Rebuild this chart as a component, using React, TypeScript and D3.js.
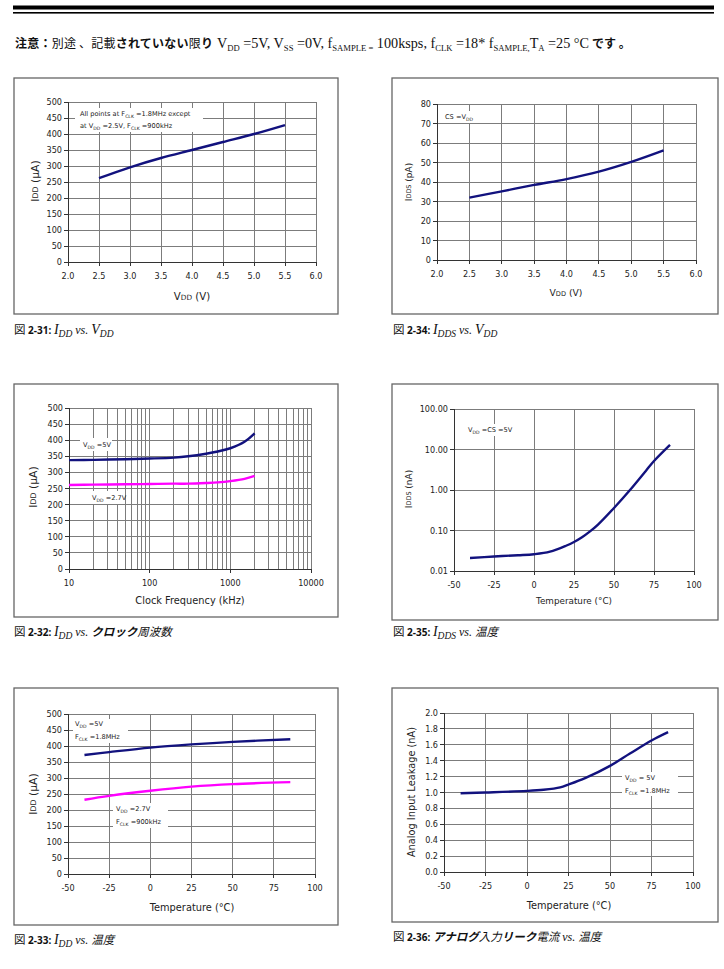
import React from 'react';
import * as d3 from 'd3';

// supply voltage sweep (V)
const VDD_SWEEP = [2.5, 3.0, 3.5, 4.0, 4.5, 5.0, 5.5];
const IDD_VS_VDD = [262, 296, 325, 350, 375, 400, 428];
const IDDS_VS_VDD = [32, 35.2, 38.5, 41.5, 45.3, 50.3, 56.2];

// clock frequency sweep (kHz)
const CLK_KHZ = [10, 20, 50, 100, 200, 300, 500, 700, 1000, 1500, 2000];
const IDD_CLK_5V = [338, 339, 341, 343, 346, 350, 358, 365, 375, 395, 421];
const IDD_CLK_27V = [261, 262, 263, 264, 265, 265, 267, 269, 273, 280, 289];

// temperature sweeps (°C)
const TEMP_C = [-40, -25, 0, 25, 50, 85];
const IDD_TEMP_5V = [372, 381, 395, 405, 413, 421];
const IDD_TEMP_27V = [232, 244, 260, 273, 281, 287];

const IDDS_TEMP_C = [-40, -25, -10, 0, 10, 20, 25, 30, 35, 40, 50, 60, 70, 75, 85];
const IDDS_TEMP_NA = [0.021, 0.0228, 0.0245, 0.026, 0.03, 0.042, 0.052, 0.068, 0.095, 0.14, 0.36, 1.0, 3.0, 5.2, 13];

const LEAK_TEMP_C = [-40, -25, 0, 10, 20, 25, 35, 50, 62, 75, 85];
const LEAK_NA = [0.99, 1.0, 1.02, 1.035, 1.065, 1.1, 1.18, 1.335, 1.49, 1.655, 1.76];

// axis ticks
const VDD_TICKS = d3.range(2, 6.01, 0.5);
const IDD_TICKS = d3.range(0, 501, 50);
const IDDS_PA_TICKS = d3.range(0, 81, 10);
const CLK_TICKS = [10, 100, 1000, 10000];
const TEMP_TICKS = [-50, -25, 0, 25, 50, 75, 100];
const IDDS_NA_TICKS = [0.01, 0.1, 1, 10, 100];
const LEAK_TICKS = d3.range(0, 2.01, 0.2);

const NAVY = '#12127e';
const PINK = '#ff00ff';
const GRID = '#7c7c7c';
const AXIS = '#333';
const SANS = '"DejaVu Sans", Verdana, sans-serif';
const SERIF = '"Liberation Serif", "Times New Roman", serif';
const CJK = '"Noto Sans CJK JP", sans-serif';
const BOLD_SANS = '"Noto Sans", sans-serif';

// [text, kind]: kind 's' = lowered subscript, 'm' = small on baseline
type Seg = [string, string?];

function Rich({ segs, size, small, shift = 0 }: { segs: Seg[]; size: number; small: number; shift?: number }) {
  let cur = 0;
  return (
    <>
      {segs.map(([t, k], i) => {
        const target = k === 's' ? shift : 0;
        const dy = target - cur;
        cur = target;
        return (
          <tspan key={i} dy={dy !== 0 ? dy : undefined} fontSize={k ? small : size}>
            {t}
          </tspan>
        );
      })}
    </>
  );
}

type Box = { x: number; y: number; w: number; h: number };
type Plot = { l: number; r: number; t: number; b: number };
type Series = { xs: number[]; ys: number[]; color: string };
type Note = { box: Box; lines: Seg[][]; tx: number; ty: number; gap: number };

function Panel(props: {
  frame: Box;
  plot: Plot;
  x: any;
  y: any;
  xTicks: number[];
  yTicks: number[];
  xGrid: number[];
  yGrid: number[];
  xFmt: (v: number) => string;
  yFmt: (v: number) => string;
  series: Series[];
  notes: Note[];
  xTitle: { segs: Seg[]; cx: number; y: number; size: number };
  yTitle: { segs: Seg[]; x: number; cy: number; size: number };
  caption: React.ReactNode;
}) {
  const { frame, plot, x, y, xTicks, yTicks, xGrid, yGrid, xFmt, yFmt, series, notes, xTitle, yTitle, caption } = props;
  const line = d3
    .line<[number, number]>()
    .x((d) => x(d[0]))
    .y((d) => y(d[1]))
    .curve(d3.curveCatmullRom.alpha(0.5));

  return (
    <g>
      <rect x={frame.x} y={frame.y} width={frame.w} height={frame.h} fill="#fff" stroke="#666" strokeWidth={1.3} />
      <g stroke={GRID} strokeWidth={1} shapeRendering="crispEdges">
        {yGrid.map((v) => (
          <line key={`h${v}`} x1={plot.l} x2={plot.r} y1={y(v)} y2={y(v)} />
        ))}
        {xGrid.map((v) => (
          <line key={`v${v}`} x1={x(v)} x2={x(v)} y1={plot.t} y2={plot.b} />
        ))}
      </g>
      <g stroke={AXIS} strokeWidth={1} shapeRendering="crispEdges">
        <line x1={plot.l} x2={plot.l} y1={plot.t} y2={plot.b} />
        <line x1={plot.l} x2={plot.r} y1={plot.b} y2={plot.b} />
        {yTicks.map((v) => (
          <line key={`yt${v}`} x1={plot.l - 4} x2={plot.l} y1={y(v)} y2={y(v)} />
        ))}
        {xTicks.map((v) => (
          <line key={`xt${v}`} x1={x(v)} x2={x(v)} y1={plot.b} y2={plot.b + 4} />
        ))}
      </g>
      <g fontFamily={SANS} fontSize={8.1} fill="#222">
        {yTicks.map((v) => (
          <text key={`yl${v}`} x={plot.l - 6} y={y(v)} textAnchor="end" dominantBaseline="central">
            {yFmt(v)}
          </text>
        ))}
        {xTicks.map((v) => (
          <text key={`xl${v}`} x={x(v)} y={plot.b + 17} textAnchor="middle">
            {xFmt(v)}
          </text>
        ))}
      </g>
      {notes.map((n, i) => (
        <g key={`n${i}`}>
          <rect x={n.box.x} y={n.box.y} width={n.box.w} height={n.box.h} fill="#fff" />
          {n.lines.map((segs, j) => (
            <text key={j} x={n.tx} y={n.ty + j * n.gap} fontFamily={SANS} fill="#222">
              <Rich segs={segs} size={6.6} small={4.6} shift={1.5} />
            </text>
          ))}
        </g>
      ))}
      {series.map((s, i) => (
        <path
          key={`s${i}`}
          d={line(s.xs.map((v, k) => [v, s.ys[k]] as [number, number])) || ''}
          fill="none"
          stroke={s.color}
          strokeWidth={2.4}
          strokeLinejoin="round"
        />
      ))}
      <text x={xTitle.cx} y={xTitle.y} textAnchor="middle" fontFamily={SANS} fill="#222">
        <Rich segs={xTitle.segs} size={xTitle.size} small={xTitle.size * 0.72} />
      </text>
      <text
        transform={`translate(${yTitle.x},${yTitle.cy}) rotate(-90)`}
        textAnchor="middle"
        dominantBaseline="central"
        fontFamily={SANS}
        fill="#222"
      >
        <Rich segs={yTitle.segs} size={yTitle.size} small={yTitle.size * 0.72} />
      </text>
      {caption}
    </g>
  );
}

// figure caption: "図 2-xx: " followed by mixed Japanese / italic serif parts
function Caption({ x, y, num, parts }: { x: number; y: number; num: string; parts: React.ReactNode }) {
  return (
    <text x={x} y={y} fill="#111">
      <tspan fontFamily={CJK} fontSize={11.5}>図 </tspan>
      <tspan fontFamily={BOLD_SANS} fontWeight="bold" fontSize={10}>{num}: </tspan>
      {parts}
    </text>
  );
}

const it = (t: string, size = 14) => (
  <tspan fontFamily={SERIF} fontStyle="italic" fontSize={size}>{t}</tspan>
);
const itSub = (t: string) => (
  <tspan fontFamily={SERIF} fontStyle="italic" fontSize={9.5} dy={3}>{t}</tspan>
);
const up = (t: string, size = 14) => (
  <tspan fontFamily={SERIF} fontStyle="italic" fontSize={size} dy={-3}>{t}</tspan>
);
const jp = (t: string, bold = false) => (
  <tspan fontFamily={CJK} fontStyle="italic" fontWeight={bold ? 'bold' : 'normal'} fontSize={11.5}>{t}</tspan>
);

export default function App() {
  const fmt1 = d3.format('.1f');
  const fmt0 = (v: number) => String(v);
  const fmt2 = d3.format('.2f');
  const IDD_TITLE: Seg[] = [['I'], ['DD', 'm'], [' (µA)']];
  const TEMP_TITLE: Seg[] = [['Temperature (°C)']];

  // row 1
  const p1 = { l: 68, r: 316, t: 102, b: 262 };
  const x1 = d3.scaleLinear().domain([2, 6]).range([p1.l, p1.r]);
  const y1 = d3.scaleLinear().domain([0, 500]).range([p1.b, p1.t]);

  const p2 = { l: 437, r: 696, t: 104, b: 260 };
  const x2 = d3.scaleLinear().domain([2, 6]).range([p2.l, p2.r]);
  const y2 = d3.scaleLinear().domain([0, 80]).range([p2.b, p2.t]);

  // row 2
  const p3 = { l: 69, r: 311, t: 408, b: 569 };
  const x3 = d3.scaleLog().domain([10, 10000]).range([p3.l, p3.r]);
  const y3 = d3.scaleLinear().domain([0, 500]).range([p3.b, p3.t]);
  const logGrid = d3.range(1, 4).flatMap((e) => d3.range(1, 10).map((m) => m * Math.pow(10, e))).concat([10000]);

  const p4 = { l: 454, r: 694, t: 409, b: 571 };
  const x4 = d3.scaleLinear().domain([-50, 100]).range([p4.l, p4.r]);
  const y4 = d3.scaleLog().domain([0.01, 100]).range([p4.b, p4.t]);

  // row 3
  const p5 = { l: 68, r: 315, t: 714, b: 874 };
  const x5 = d3.scaleLinear().domain([-50, 100]).range([p5.l, p5.r]);
  const y5 = d3.scaleLinear().domain([0, 500]).range([p5.b, p5.t]);

  const p6 = { l: 444, r: 693, t: 713, b: 872 };
  const x6 = d3.scaleLinear().domain([-50, 100]).range([p6.l, p6.r]);
  const y6 = d3.scaleLinear().domain([0, 2]).range([p6.b, p6.t]);

  return (
    <svg
      width={724}
      height={969}
      viewBox="0 0 724 969"
      style={{ position: 'absolute', left: 0, top: 0, background: '#fff' }}
    >
      <rect x={0} y={0} width={724} height={969} fill="#fff" />
      {/* header rules */}
      <rect x={13} y={5.5} width={701} height={4} fill="#000" />
      <rect x={13} y={12} width={701} height={1.6} fill="#000" />

      {/* conditions note */}
      <text x={15} y={48} fontFamily={CJK} fontSize={12} fill="#111" textLength={198} lengthAdjust="spacing">
        <tspan fontWeight="bold">注意：</tspan>
        <tspan>別途 、記載</tspan>
        <tspan fontWeight="bold">されていない</tspan>
        <tspan>限</tspan>
        <tspan fontWeight="bold">り</tspan>
      </text>
      <text x={217} y={48} fontFamily={SERIF} fill="#111" textLength={372} lengthAdjust="spacingAndGlyphs">
        <Rich
          segs={[
            ['V'], ['DD', 's'], [' =5V, V'], ['SS', 's'], [' =0V, f'], ['SAMPLE =', 's'],
            [' 100ksps, f'], ['CLK', 's'], [' =18* f'], ['SAMPLE,', 's'], ['T'], ['A', 's'], [' =25 °C'],
          ]}
          size={14}
          small={8.5}
          shift={3}
        />
      </text>
      <text x={592} y={48} fontFamily={CJK} fontSize={12} fontWeight="bold" fill="#111">
        です 。
      </text>

      <Panel
        frame={{ x: 14, y: 78, w: 324, h: 236 }}
        plot={p1}
        x={x1}
        y={y1}
        xTicks={VDD_TICKS}
        yTicks={IDD_TICKS}
        xGrid={VDD_TICKS.slice(1)}
        yGrid={IDD_TICKS.slice(1)}
        xFmt={fmt1}
        yFmt={fmt0}
        series={[{ xs: VDD_SWEEP, ys: IDD_VS_VDD, color: NAVY }]}
        notes={[
          {
            box: { x: 75, y: 108, w: 128, h: 24 },
            tx: 80,
            ty: 116,
            gap: 12,
            lines: [
              [['All points at F'], ['CLK', 's'], [' =1.8MHz except']],
              [['at V'], ['DD', 's'], [' =2.5V, F'], ['CLK', 's'], [' =900kHz']],
            ],
          },
        ]}
        xTitle={{ segs: [['V'], ['DD', 'm'], [' (V)']], cx: 192, y: 300, size: 10.2 }}
        yTitle={{ segs: IDD_TITLE, x: 35, cy: 181, size: 10.8 }}
        caption={
          <Caption x={14} y={334} num="2-31" parts={<>{it('I')}{itSub('DD')}{up(' vs. ', 12)}{it('V')}{itSub('DD')}</>} />
        }
      />

      <Panel
        frame={{ x: 392, y: 78, w: 326, h: 236 }}
        plot={p2}
        x={x2}
        y={y2}
        xTicks={VDD_TICKS}
        yTicks={IDDS_PA_TICKS}
        xGrid={VDD_TICKS.slice(1)}
        yGrid={IDDS_PA_TICKS.slice(1)}
        xFmt={fmt1}
        yFmt={fmt0}
        series={[{ xs: VDD_SWEEP, ys: IDDS_VS_VDD, color: NAVY }]}
        notes={[
          {
            box: { x: 443, y: 111, w: 33, h: 12 },
            tx: 445,
            ty: 119,
            gap: 12,
            lines: [[['CS =V'], ['DD', 's']]],
          },
        ]}
        xTitle={{ segs: [['V'], ['DD', 'm'], [' (V)']], cx: 566, y: 296, size: 9.2 }}
        yTitle={{ segs: [['I'], ['DDS', 'm'], [' (pA)']], x: 409, cy: 182, size: 9 }}
        caption={
          <Caption x={393} y={334} num="2-34" parts={<>{it('I')}{itSub('DDS')}{up(' vs. ', 12)}{it('V')}{itSub('DD')}</>} />
        }
      />

      <Panel
        frame={{ x: 14, y: 384, w: 324, h: 233 }}
        plot={p3}
        x={x3}
        y={y3}
        xTicks={CLK_TICKS}
        yTicks={IDD_TICKS}
        xGrid={logGrid}
        yGrid={IDD_TICKS.slice(1)}
        xFmt={fmt0}
        yFmt={fmt0}
        series={[
          { xs: CLK_KHZ, ys: IDD_CLK_5V, color: NAVY },
          { xs: CLK_KHZ, ys: IDD_CLK_27V, color: PINK },
        ]}
        notes={[
          { box: { x: 80, y: 438, w: 32, h: 13 }, tx: 83, ty: 447, gap: 12, lines: [[['V'], ['DD', 's'], [' =5V']]] },
          { box: { x: 89, y: 491, w: 36, h: 13 }, tx: 92, ty: 500, gap: 12, lines: [[['V'], ['DD', 's'], [' =2.7V']]] },
        ]}
        xTitle={{ segs: [['Clock Frequency (kHz)']], cx: 190, y: 604, size: 9.8 }}
        yTitle={{ segs: IDD_TITLE, x: 33, cy: 487, size: 10.8 }}
        caption={
          <Caption
            x={14}
            y={636}
            num="2-32"
            parts={<>{it('I')}{itSub('DD')}{up(' vs. ', 12)}{jp('クロック', true)}{jp('周波数')}</>}
          />
        }
      />

      <Panel
        frame={{ x: 392, y: 384, w: 326, h: 236 }}
        plot={p4}
        x={x4}
        y={y4}
        xTicks={TEMP_TICKS}
        yTicks={IDDS_NA_TICKS}
        xGrid={TEMP_TICKS.slice(1)}
        yGrid={IDDS_NA_TICKS.slice(1)}
        xFmt={fmt0}
        yFmt={fmt2}
        series={[{ xs: IDDS_TEMP_C, ys: IDDS_TEMP_NA, color: NAVY }]}
        notes={[
          {
            box: { x: 466, y: 424, w: 55, h: 12 },
            tx: 468,
            ty: 432,
            gap: 12,
            lines: [[['V'], ['DD', 's'], ['  =CS =5V']]],
          },
        ]}
        xTitle={{ segs: TEMP_TITLE, cx: 574, y: 604, size: 8.8 }}
        yTitle={{ segs: [['I'], ['DDS', 'm'], [' (nA)']], x: 409, cy: 489, size: 9 }}
        caption={
          <Caption x={393} y={636} num="2-35" parts={<>{it('I')}{itSub('DDS')}{up(' vs. ', 12)}{jp('温度')}</>} />
        }
      />

      <Panel
        frame={{ x: 14, y: 688, w: 324, h: 237 }}
        plot={p5}
        x={x5}
        y={y5}
        xTicks={TEMP_TICKS}
        yTicks={IDD_TICKS}
        xGrid={TEMP_TICKS.slice(1)}
        yGrid={IDD_TICKS.slice(1)}
        xFmt={fmt0}
        yFmt={fmt0}
        series={[
          { xs: TEMP_C, ys: IDD_TEMP_5V, color: NAVY },
          { xs: TEMP_C, ys: IDD_TEMP_27V, color: PINK },
        ]}
        notes={[
          {
            box: { x: 73, y: 719, w: 55, h: 24 },
            tx: 75,
            ty: 726,
            gap: 13,
            lines: [[['V'], ['DD', 's'], [' =5V']], [['F'], ['CLK', 's'], [' =1.8MHz']]],
          },
          {
            box: { x: 113, y: 803, w: 55, h: 25 },
            tx: 116,
            ty: 811,
            gap: 13,
            lines: [[['V'], ['DD', 's'], [' =2.7V']], [['F'], ['CLK', 's'], [' =900kHz']]],
          },
        ]}
        xTitle={{ segs: TEMP_TITLE, cx: 192, y: 911, size: 9.8 }}
        yTitle={{ segs: IDD_TITLE, x: 33, cy: 794, size: 10.8 }}
        caption={
          <Caption x={14} y={944} num="2-33" parts={<>{it('I')}{itSub('DD')}{up(' vs. ', 12)}{jp('温度')}</>} />
        }
      />

      <Panel
        frame={{ x: 392, y: 688, w: 326, h: 234 }}
        plot={p6}
        x={x6}
        y={y6}
        xTicks={TEMP_TICKS}
        yTicks={LEAK_TICKS}
        xGrid={TEMP_TICKS.slice(1)}
        yGrid={LEAK_TICKS.slice(1)}
        xFmt={fmt0}
        yFmt={fmt1}
        series={[{ xs: LEAK_TEMP_C, ys: LEAK_NA, color: NAVY }]}
        notes={[
          {
            box: { x: 622, y: 772, w: 56, h: 24 },
            tx: 625,
            ty: 780,
            gap: 13,
            lines: [[['V'], ['DD', 's'], [' = 5V']], [['F'], ['CLK', 's'], [' =1.8MHz']]],
          },
        ]}
        xTitle={{ segs: TEMP_TITLE, cx: 569, y: 909, size: 9.8 }}
        yTitle={{ segs: [['Analog Input Leakage (nA)']], x: 411, cy: 792, size: 9.8 }}
        caption={
          <Caption
            x={393}
            y={941}
            num="2-36"
            parts={
              <>
                {jp('アナログ', true)}
                {jp('入力')}
                {jp('リーク', true)}
                {jp('電流')}
                {it(' vs. ', 12)}
                {jp('温度')}
              </>
            }
          />
        }
      />
    </svg>
  );
}
